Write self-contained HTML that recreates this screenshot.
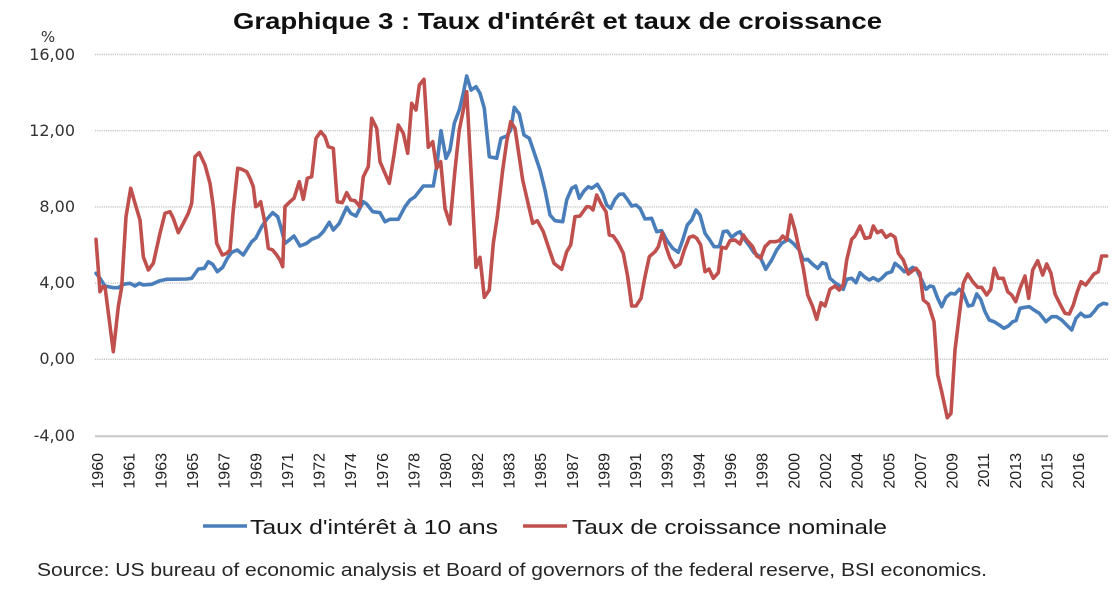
<!DOCTYPE html>
<html><head><meta charset="utf-8"><style>
html,body{margin:0;padding:0;background:#fff;}
svg{display:block;}
</style></head><body>
<svg width="1118" height="597" viewBox="0 0 1118 597" xmlns="http://www.w3.org/2000/svg">
<rect width="1118" height="597" fill="#fff"/>
<text x="233" y="29" font-family="Liberation Sans, sans-serif" font-weight="bold" font-size="23" fill="#111" textLength="649" lengthAdjust="spacingAndGlyphs">Graphique 3 : Taux d'intérêt et taux de croissance</text>
<text x="48" y="42" text-anchor="middle" font-family="DejaVu Sans, sans-serif" font-size="15" fill="#333">%</text>
<g stroke="#c4c4c4" stroke-width="1.4" stroke-dasharray="1.2,1">
<line x1="95" y1="54.5" x2="1108" y2="54.5"/>
<line x1="95" y1="130.7" x2="1108" y2="130.7"/>
<line x1="95" y1="206.9" x2="1108" y2="206.9"/>
<line x1="95" y1="283.1" x2="1108" y2="283.1"/>
<line x1="95" y1="359.3" x2="1108" y2="359.3"/>
</g>
<line x1="95" y1="436.3" x2="1108" y2="436.3" stroke="#c8c8c8" stroke-width="2"/>
<g font-family="DejaVu Sans, sans-serif" font-size="16" fill="#333" text-anchor="end">
<text x="75" y="60">16,00</text>
<text x="75" y="136">12,00</text>
<text x="75" y="212">8,00</text>
<text x="75" y="288">4,00</text>
<text x="75" y="364">0,00</text>
<text x="75" y="441">-4,00</text>
</g>
<g font-family="Liberation Sans, sans-serif" font-size="16" fill="#222" text-anchor="end">
<text transform="translate(103,453) rotate(-90)">1960</text>
<text transform="translate(134.65,453) rotate(-90)">1961</text>
<text transform="translate(166.3,453) rotate(-90)">1963</text>
<text transform="translate(197.95,453) rotate(-90)">1965</text>
<text transform="translate(229.6,453) rotate(-90)">1967</text>
<text transform="translate(261.25,453) rotate(-90)">1969</text>
<text transform="translate(292.9,453) rotate(-90)">1971</text>
<text transform="translate(324.55,453) rotate(-90)">1972</text>
<text transform="translate(356.2,453) rotate(-90)">1974</text>
<text transform="translate(387.85,453) rotate(-90)">1976</text>
<text transform="translate(419.5,453) rotate(-90)">1978</text>
<text transform="translate(451.15,453) rotate(-90)">1980</text>
<text transform="translate(482.8,453) rotate(-90)">1982</text>
<text transform="translate(514.45,453) rotate(-90)">1983</text>
<text transform="translate(546.1,453) rotate(-90)">1985</text>
<text transform="translate(577.75,453) rotate(-90)">1987</text>
<text transform="translate(609.4,453) rotate(-90)">1989</text>
<text transform="translate(641.05,453) rotate(-90)">1991</text>
<text transform="translate(672.7,453) rotate(-90)">1993</text>
<text transform="translate(704.35,453) rotate(-90)">1994</text>
<text transform="translate(736,453) rotate(-90)">1996</text>
<text transform="translate(767.65,453) rotate(-90)">1998</text>
<text transform="translate(799.3,453) rotate(-90)">2000</text>
<text transform="translate(830.95,453) rotate(-90)">2002</text>
<text transform="translate(862.6,453) rotate(-90)">2004</text>
<text transform="translate(894.25,453) rotate(-90)">2005</text>
<text transform="translate(925.9,453) rotate(-90)">2007</text>
<text transform="translate(957.55,453) rotate(-90)">2009</text>
<text transform="translate(989.2,453) rotate(-90)">2011</text>
<text transform="translate(1020.85,453) rotate(-90)">2013</text>
<text transform="translate(1052.5,453) rotate(-90)">2015</text>
<text transform="translate(1084.15,453) rotate(-90)">2016</text>
</g>
<polyline fill="none" stroke="#4A7EBB" stroke-width="3.6" stroke-linejoin="round" stroke-linecap="round" points="96,273.3 100,278.3 105,286 113.3,287.7 118.3,287.7 123.3,284.3 130,283.3 135,286 139.3,283.3 143.3,285 151.7,284.3 160,280.7 166.7,279.3 186.7,279 191.7,278.3 198.3,269 204.3,268.3 208.3,261.7 212.7,264.3 217.3,271.7 222.7,267.3 227.3,258.3 231.7,252.3 237.3,250 243.3,255 251.7,241.7 255.7,238.3 261.7,226.7 266.7,219.3 272.7,212.7 277.7,216.7 280.7,226.7 285,243.3 289.3,240 294,236 300,246 306.7,243.3 311.7,239.3 318.3,236.7 323.3,231.7 329.3,222.3 333.3,230 339.3,223.3 346.7,207.3 350.7,213.3 356,216 363.3,201.7 366.7,204 372.7,211.7 380,212.7 385,221.7 390,219.3 398.3,219.3 405,206.7 410,200 415,196.7 423.3,186 433.3,186 436.7,166 441,130.7 446,158.3 450,150 454.3,123.3 459.3,110 463.3,93.3 466.7,76 471,90 476,86.7 480,93.3 484.3,108.3 489.3,156.7 496.7,158.3 501,138.3 506.7,136 510.7,130 514.3,107.3 519.3,114 524,135 529.3,138.3 533.3,150 540,170 545,190 550,215 555,220.7 562.7,221.7 566.7,200 571.7,188.3 575.7,186 579.3,198.3 584,191 588.3,186.7 591.7,188.3 597.3,184.3 602.7,193.3 606.7,205 610.7,208.3 615,199.3 619.3,194.3 623.3,194 627.3,199.3 631.7,206 636,205 640,208.3 645,219 651.7,218.3 656.7,231.7 661.7,230.7 666.7,240 672.7,248.3 678.3,252.3 682.7,240 687.3,225 691.7,220 696,210 700,215 705,233.3 709.3,239.3 714,246.7 719.3,246.7 723.3,231.7 727.3,231 731.7,237.3 736.7,233.3 740,231.7 745,240 750,246.7 754,252.7 760,256.7 765.7,269.3 771.7,260 776.7,250 781.7,243.3 788.3,239.3 794,244 799.3,250 803.3,260 807.7,259.3 812.7,264.3 817.7,268.3 822.3,262.7 826,264 830,278.3 835,282.7 840,286 843.3,289.3 846.7,279.3 851.7,278.3 856,282.7 860,272.7 865,277.3 869.3,280 873.3,277.7 878.3,280.7 881.7,278.3 886.7,273.3 891.7,271.7 895,263.3 900,267.3 904.3,271.7 908.3,270.7 912.7,267.3 916.7,270 921.7,280 926,289.3 930,286 933.3,286.7 937.7,298.3 941.7,306.7 946,297.3 950.7,293.3 955,294 959.3,289.3 963.3,293.3 968.3,306 972.7,305 976.7,294 980.7,299.3 985,311.7 989.3,320 994,321.7 999.3,325 1004,328.3 1008.3,326 1012.7,321.7 1016,320.7 1020,308.3 1025,307.3 1029.3,306.7 1034,310 1039.3,313.3 1046,321.7 1051.7,316.7 1056.7,316.7 1061.7,320 1066.7,325 1071.7,330 1076,318.3 1080.7,313.3 1085,316.7 1090,316 1094,311.7 1098.3,306 1103.3,303.3 1106.7,304"/>
<polyline fill="none" stroke="#C0504D" stroke-width="3.6" stroke-linejoin="round" stroke-linecap="round" points="96,239.3 100,291.7 102.7,286.7 105,286.7 113.3,351.7 118.3,306.7 121.7,286.7 126,216.7 130.7,188.3 135,203.3 140,220 143.3,256.7 148.3,270 153.3,263.3 160,233.3 165,213.3 170,211.7 173.3,218.3 178.3,232.7 183.3,223.3 188.3,213.3 191.7,203.3 195,156.7 199.3,152.7 205,165 210,183.3 213.3,206.7 216.7,243.3 222.3,255 226.7,253.3 230,250 233.3,210 237.7,168.3 241.7,169.3 246.7,171.7 250,178.3 253.3,186.7 255.7,206.7 258.3,205 260.7,201.7 265,223.3 268.3,248.3 272.7,250 276.7,255 280,260 282.7,266.7 285,206.7 290,201.7 294,198.3 299.3,181.7 303.3,199.3 307.3,178.3 311.7,176.7 316,138.3 320.7,131.7 325,136.7 328.3,146.7 333.3,148.3 337.3,201.7 342.3,202.7 346.7,192.7 350.7,200 355,200.7 360,206.7 363.3,176.7 368.3,166.7 371.7,118.3 376.7,128.3 380,161.7 385,173.3 389.3,183.3 394,155 398.3,125 403.3,133.3 407.7,153.3 411.7,103.3 416,110 419.3,85 424,79.3 428.3,147.3 432.7,141.7 436.7,168.3 440.7,161.7 445,208.3 450,224 455,170 459.3,130 463.3,110 466.7,91.7 471.7,183.3 476,267.3 480,257.3 484.3,297.3 489.3,290 493.3,243.3 497.3,216.7 502.7,170 506.7,141.7 510.7,121.7 515,128.3 522.7,180 527.3,200 532.7,223.3 537.3,220.7 543.3,231.7 548.3,246.7 554,263.3 561.7,269.3 566.7,251.7 570.7,245 575,216.7 580,216 586.7,206.7 590,207 593,210 596.7,195 601.7,205 606,211.7 609.3,235 613.3,236 618.3,243.3 623.3,253.3 627.7,276.7 631.7,306 636,306 641,298.3 645,276.7 649.3,256.7 655,251.7 658.3,246.7 662.3,232.7 666,246.7 670,258.3 675,267.3 680,264 684.3,250 689.3,237.3 693.3,236 696.7,238.3 700.7,245 705,271.7 709,269 713.3,278.3 718.3,272.7 721.7,247.3 726,248.3 730,240.7 735,240 740,244 743.3,235 746.7,240 752.7,246.7 756.7,256 760.7,258.3 765,246.7 770,241.7 775,241.7 779.3,240.7 782.7,236 786.7,240 790.7,215 795,230 799.3,250 803.3,268.3 807.7,295 812.7,306.7 816.7,319.3 821,302.7 825,306 830,289.3 835,286 839.3,290 843.3,285 846.7,260 851.7,239.3 855,236 860,226 865,238.3 870,237.3 873.3,226 877.3,232.7 881.7,230.7 886,237.3 890.7,234.3 895,237.3 898.3,253.3 903.3,260 908.3,274 912.7,270.7 916,268.3 920,273.3 923.3,300 928.3,304 934,321.7 937.7,375 941.7,391.7 947.3,417.7 951,413.3 955,350 959.3,315 963.3,283.3 967.7,274 972.7,281.7 977.7,287.3 981.7,287.3 986.7,295 990.7,289.3 994.3,268.3 998.3,278.3 1003.3,278.3 1007.7,291.7 1011.7,295 1015.7,301.7 1020,288.3 1025,276 1028.7,298.3 1032.7,270 1037.7,260.7 1042.7,275 1046.7,264 1051,273.3 1055,294 1060,304 1065,313.3 1069.3,314 1073.3,305 1077.3,291.7 1081,281.7 1085.7,285 1090,279.3 1094,274 1098.3,271.7 1101.7,256 1106.7,256"/>
<line x1="203" y1="526" x2="247" y2="526" stroke="#4A7EBB" stroke-width="3.6"/>
<text x="250" y="534" font-family="Liberation Sans, sans-serif" font-size="20" fill="#1a1a1a" textLength="248" lengthAdjust="spacingAndGlyphs">Taux d'intérêt à 10 ans</text>
<line x1="523" y1="526" x2="567" y2="526" stroke="#C0504D" stroke-width="3.6"/>
<text x="572" y="534" font-family="Liberation Sans, sans-serif" font-size="20" fill="#1a1a1a" textLength="315" lengthAdjust="spacingAndGlyphs">Taux de croissance nominale</text>
<text x="37" y="576" font-family="Liberation Sans, sans-serif" font-size="18" fill="#262626" textLength="950" lengthAdjust="spacingAndGlyphs">Source: US bureau of economic analysis et Board of governors of the federal reserve, BSI economics.</text>
</svg>
</body></html>
